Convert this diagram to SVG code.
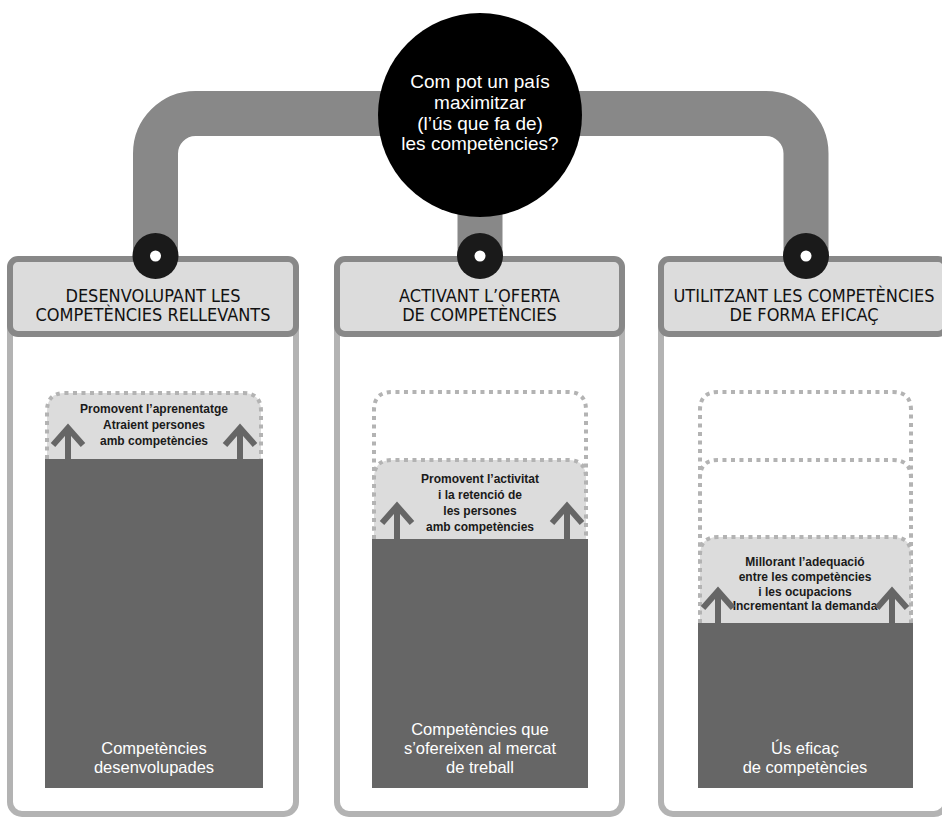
<svg xmlns="http://www.w3.org/2000/svg" width="942" height="818" viewBox="0 0 942 818">
<style>
.body{fill:#fff;stroke:#b3b3b3;stroke-width:6}
.head{fill:#dcdcdc;stroke:#888;stroke-width:6}
.htxt{font-family:"DejaVu Sans Condensed","DejaVu Sans","Liberation Sans",sans-serif;font-stretch:condensed;font-size:18px;fill:#111;text-anchor:middle}
.dark{fill:#666}
.dot{fill:none;stroke:#b3b3b3;stroke-width:4;stroke-dasharray:4 4.5}
.dotf{fill:#dcdcdc;stroke:#b3b3b3;stroke-width:4;stroke-dasharray:4 4.5}
.btxt{font-family:"Liberation Sans",Arial,sans-serif;font-weight:bold;font-size:12px;fill:#1a1a1a;text-anchor:middle}
.wtxt{font-family:"Liberation Sans",Arial,sans-serif;font-size:16.5px;fill:#fff;text-anchor:middle}
.arrow{fill:none;stroke:#666;stroke-width:6}
.pipe{fill:none;stroke:#888;stroke-width:45}
.jn{fill:#1a1a1a}
.jd{fill:#fff}
.ctxt{font-family:"Liberation Sans",Arial,sans-serif;font-size:19px;fill:#fff;text-anchor:middle}
</style>

<g id="panel-left">
  <rect class="body" x="10" y="300" width="286" height="514" rx="12"/>
  <rect class="head" x="10" y="259" width="286" height="75" rx="8"/>
  <text class="htxt" x="153" y="302">DESENVOLUPANT LES</text>
  <text class="htxt" x="153" y="321">COMPETÈNCIES RELLEVANTS</text>
  <rect class="dark" x="45" y="459" width="218" height="329"/>
  <path class="dotf" d="M47,459 V411 Q47,393 65,393 H243 Q261,393 261,411 V459"/>
  <text class="btxt" x="154" y="413">Promovent l’aprenentatge</text>
  <text class="btxt" x="154" y="429">Atraient persones</text>
  <text class="btxt" x="154" y="445">amb competències</text>
  <path class="arrow" d="M53,445 L68,428 L83,445 M68,428 V459"/>
  <path class="arrow" d="M225,445 L240,428 L255,445 M240,428 V459"/>
  <text class="wtxt" x="154" y="754">Competències</text>
  <text class="wtxt" x="154" y="773">desenvolupades</text>
</g>

<g id="panel-middle">
  <rect class="body" x="337" y="300" width="285" height="514" rx="12"/>
  <rect class="head" x="337" y="259" width="285" height="75" rx="8"/>
  <text class="htxt" x="479.5" y="302">ACTIVANT L’OFERTA</text>
  <text class="htxt" x="479.5" y="321">DE COMPETÈNCIES</text>
  <rect class="dark" x="372" y="539" width="216" height="249"/>
  <path class="dot" d="M374,539 V410 Q374,392 392,392 H568 Q586,392 586,410 V539"/>
  <path class="dotf" d="M374,539 V478 Q374,460 392,460 H568 Q586,460 586,478 V539"/>
  <text class="btxt" x="480" y="483">Promovent l’activitat</text>
  <text class="btxt" x="480" y="499">i la retenció de</text>
  <text class="btxt" x="480" y="515">les persones</text>
  <text class="btxt" x="480" y="531">amb competències</text>
  <path class="arrow" d="M382,523 L397,506 L412,523 M397,506 V539"/>
  <path class="arrow" d="M552,523 L567,506 L582,523 M567,506 V539"/>
  <text class="wtxt" x="480" y="735">Competències que</text>
  <text class="wtxt" x="480" y="754">s’ofereixen al mercat</text>
  <text class="wtxt" x="480" y="773">de treball</text>
</g>

<g id="panel-right">
  <rect class="body" x="661" y="300" width="285" height="514" rx="12"/>
  <rect class="head" x="661" y="259" width="285" height="75" rx="8"/>
  <text class="htxt" x="804" y="302">UTILITZANT LES COMPETÈNCIES</text>
  <text class="htxt" x="804" y="321">DE FORMA EFICAÇ</text>
  <rect class="dark" x="698" y="623" width="215" height="165"/>
  <path class="dot" d="M700,623 V410 Q700,392 718,392 H893 Q911,392 911,410 V623"/>
  <path class="dot" d="M700,623 V478 Q700,460 718,460 H893 Q911,460 911,478 V623"/>
  <path class="dotf" d="M700,623 V555 Q700,537 718,537 H893 Q911,537 911,555 V623"/>
  <text class="btxt" x="805" y="566">Millorant l’adequació</text>
  <text class="btxt" x="805" y="581">entre les competències</text>
  <text class="btxt" x="805" y="596">i les ocupacions</text>
  <text class="btxt" x="805" y="610">Incrementant la demanda</text>
  <path class="arrow" d="M703,608 L718,591 L733,608 M718,591 V623"/>
  <path class="arrow" d="M877,608 L892,591 L907,608 M892,591 V623"/>
  <text class="wtxt" x="805" y="754">Ús eficaç</text>
  <text class="wtxt" x="805" y="773">de competències</text>
</g>

<g id="connectors">
  <path class="pipe" d="M155.5,256 V153.5 A40,40 0 0 1 195.5,113.5 H766 A40,40 0 0 1 806,153.5 V256"/>
  <path class="pipe" d="M480,115 V256"/>
  <circle class="jn" cx="155.5" cy="256" r="23"/>
  <circle class="jd" cx="155.5" cy="256" r="5.5"/>
  <circle class="jn" cx="480" cy="256" r="23"/>
  <circle class="jd" cx="480" cy="256" r="5.5"/>
  <circle class="jn" cx="806" cy="256" r="23"/>
  <circle class="jd" cx="806" cy="256" r="5.5"/>
</g>

<g id="question">
  <circle cx="480" cy="115" r="102" fill="#000"/>
  <text class="ctxt" x="480" y="88">Com pot un país</text>
  <text class="ctxt" x="480" y="109">maximitzar</text>
  <text class="ctxt" x="480" y="130">(l’ús que fa de)</text>
  <text class="ctxt" x="480" y="150">les competències?</text>
</g>
</svg>
